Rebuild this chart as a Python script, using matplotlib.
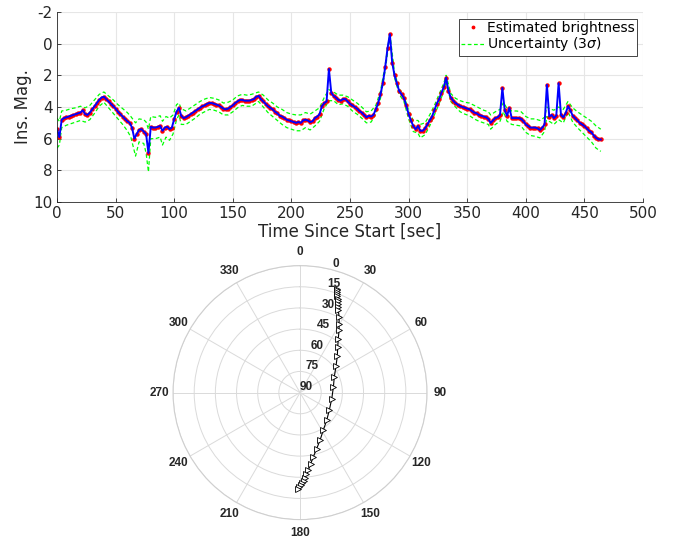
import numpy as np
import matplotlib
matplotlib.use("Agg")
import matplotlib.pyplot as plt
from matplotlib.lines import Line2D

plt.rcParams["axes.unicode_minus"] = False

# ---- light curve: estimated instrumental magnitude, one sample every 2 s ----
time_s = np.arange(0, 466, 2)
mag = [
    5.4, 5.9, 4.8, 4.7, 4.65, 4.6, 4.55, 4.5, 4.45, 4.4,
    4.35, 4.2, 4.45, 4.5, 4.35, 4.15, 3.95, 3.75, 3.55, 3.4,
    3.35, 3.5, 3.65, 3.8, 3.95, 4.1, 4.3, 4.45, 4.6, 4.75,
    4.9, 5.0, 5.3, 6.0, 5.7, 5.45, 5.4, 5.55, 5.7, 6.9,
    5.25, 5.3, 5.3, 5.25, 5.2, 5.5, 5.3, 5.25, 5.4, 5.3,
    4.75, 4.3, 4.05, 4.55, 4.7, 4.65, 4.55, 4.45, 4.35, 4.25,
    4.15, 4.05, 3.95, 3.9, 3.8, 3.75, 3.75, 3.8, 3.85, 3.9,
    4.0, 4.1, 4.15, 4.1, 4.0, 3.9, 3.75, 3.65, 3.55, 3.55,
    3.6, 3.6, 3.6, 3.55, 3.5, 3.35, 3.3, 3.5, 3.65, 3.8,
    3.95, 4.05, 4.15, 4.3, 4.4, 4.55, 4.6, 4.7, 4.8, 4.85,
    4.9, 4.95, 5.0, 4.95, 5.0, 4.85, 4.8, 4.85, 4.95, 4.9,
    4.7, 4.6, 4.45, 3.95, 3.75, 3.65, 1.6, 3.1, 3.3, 3.4,
    3.55, 3.6, 3.5, 3.5, 3.65, 3.8, 3.9, 4.0, 4.1, 4.25,
    4.35, 4.5, 4.65, 4.55, 4.6, 4.5, 4.15, 3.75, 3.2, 2.5,
    1.5, 0.3, -0.6, 1.2, 2.0, 2.5, 3.0, 3.2, 3.45, 3.9,
    4.45, 4.85, 5.2, 5.4, 5.2, 5.5, 5.5, 5.35, 5.1, 4.85,
    4.6, 4.2, 3.8, 3.5, 3.1, 2.75, 2.15, 3.0, 3.4, 3.6,
    3.75, 3.85, 3.95, 4.0, 4.05, 4.1, 4.15, 4.25, 4.35, 4.4,
    4.5, 4.55, 4.6, 4.65, 4.75, 5.0, 4.85, 4.7, 4.65, 4.5,
    2.8, 4.2, 4.55, 4.05, 4.7, 4.7, 4.7, 4.7, 4.75, 4.9,
    5.1, 5.2, 5.3, 5.3, 5.3, 5.35, 5.45, 5.3, 5.1, 2.6,
    4.6, 4.5, 4.7, 4.55, 2.5, 4.5, 4.65, 4.4, 3.95, 4.2,
    4.55, 4.7, 4.85, 5.0, 5.1, 5.2, 5.35, 5.5, 5.6, 5.8,
    5.95, 6.05, 6.05,
]

# 3-sigma envelope (bright side / faint side)
unc_t = [
    0, 2, 4, 8, 12, 16, 20, 24, 28, 32, 36, 40, 44, 48, 52, 56, 60, 63, 67, 70,
    74, 76, 78, 80, 84, 88, 90, 93, 96, 99, 102, 104, 106, 110, 114, 118, 122, 126, 130, 134,
    138, 142, 146, 150, 154, 158, 162, 166, 170, 172, 176, 180, 184, 188, 192, 196, 200, 204, 208, 212,
    216, 220, 224, 228, 232, 236, 240, 244, 248, 252, 256, 260, 264, 268, 272, 276, 280, 284, 288, 292,
    296, 300, 304, 308, 310, 314, 318, 322, 326, 330, 332, 336, 340, 344, 348, 352, 356, 360, 364, 368,
    370, 374, 378, 381, 384, 388, 392, 396, 400, 404, 408, 412, 416, 418, 420, 424, 428, 432, 436, 440,
    444, 448, 452, 456, 460, 464,
]
unc_hi = [
    4.7, 4.9, 4.25, 4.2, 4.1, 4.05, 3.95, 4.05, 3.9, 3.55, 3.2, 3.05, 3.3, 3.55, 3.85, 4.1, 4.35, 4.6, 5.0, 4.75,
    4.8, 4.95, 5.4, 4.6, 4.65, 4.55, 4.9, 4.6, 4.7, 4.5, 3.85, 3.75, 4.1, 4.25, 4.05, 3.85, 3.65, 3.5, 3.4, 3.45,
    3.55, 3.75, 3.7, 3.55, 3.3, 3.2, 3.25, 3.2, 3.1, 3.05, 3.25, 3.55, 3.75, 4.0, 4.15, 4.35, 4.45, 4.5, 4.5, 4.35,
    4.45, 4.25, 4.05, 3.4, 2.9, 3.05, 3.25, 3.25, 3.35, 3.55, 3.75, 4.0, 4.3, 4.25, 3.9, 3.0, 1.35, -0.65, 1.85, 2.85,
    3.3, 4.2, 4.85, 4.85, 5.1, 5.0, 4.5, 3.9, 3.2, 2.5, 2.0, 3.15, 3.45, 3.6, 3.7, 3.75, 3.9, 4.05, 4.2, 4.3,
    4.5, 4.3, 4.15, 3.7, 4.1, 4.25, 4.25, 4.3, 4.6, 4.75, 4.75, 4.85, 4.65, 4.0, 4.1, 4.2, 4.0, 4.15, 3.65, 4.05,
    4.3, 4.5, 4.7, 4.9, 5.2, 5.4,
]
unc_lo = [
    6.6, 6.4, 5.3, 5.15, 5.05, 4.95, 4.85, 4.95, 4.8, 4.4, 3.95, 3.7, 4.05, 4.4, 4.75, 5.1, 5.5, 5.9, 7.1, 6.2,
    6.3, 6.9, 8.1, 6.0, 6.0, 5.9, 6.4, 5.9, 6.1, 5.7, 4.8, 4.5, 5.1, 5.1, 4.9, 4.7, 4.45, 4.3, 4.15, 4.2,
    4.3, 4.5, 4.5, 4.3, 4.05, 3.9, 3.95, 3.95, 3.75, 3.65, 4.0, 4.35, 4.6, 4.85, 5.1, 5.3, 5.4, 5.5, 5.5, 5.3,
    5.45, 5.2, 4.9, 4.1, 3.6, 3.6, 3.85, 3.8, 3.95, 4.25, 4.45, 4.7, 5.0, 4.95, 4.45, 3.45, 1.7, -0.45, 2.15, 3.2,
    3.65, 4.75, 5.55, 5.65, 5.95, 5.75, 5.2, 4.5, 3.8, 3.0, 2.4, 3.65, 4.0, 4.3, 4.45, 4.55, 4.75, 4.9, 5.0, 5.1,
    5.4, 5.1, 4.9, 4.3, 4.9, 5.1, 5.15, 5.2, 5.6, 5.8, 5.85, 5.95, 5.55, 4.6, 4.9, 5.1, 4.8, 5.0, 4.3, 4.95,
    5.3, 5.6, 5.9, 6.2, 6.6, 6.8,
]

# ---- sky track of the object (azimuth / elevation, degrees) ----
azimuth = [
    19.4, 19.8, 20.3, 20.7, 21.2, 21.9, 22.5, 23.2, 24.0, 24.9,
    27.3, 29.5, 32.0, 35.3, 39.5, 45.7, 53.7, 65.4, 80.3, 100.7,
    121.0, 135.9, 148.2, 157.2, 163.4, 168.3, 171.4, 173.9, 175.5, 176.6,
    177.7, 178.7, 179.7, 180.4, 181.0,
]
elevation = [
    11.8, 13.0, 14.3, 15.6, 16.9, 18.4, 20.0, 21.6, 23.5, 25.6,
    29.6, 33.8, 37.8, 43.1, 48.0, 53.1, 58.4, 63.3, 66.0, 67.1,
    65.8, 62.8, 58.7, 53.4, 48.6, 43.5, 39.1, 34.7, 31.9, 29.5,
    27.4, 25.6, 24.2, 23.0, 22.0,
]

dark = "#262626"
grid_c = "#e6e6e6"

fig = plt.figure(figsize=(6.74, 5.39), dpi=100)

# light curve
ax = fig.add_axes([0.0846, 0.6252, 0.8694, 0.3525])
ax.plot(unc_t, unc_hi, color="#00ff00", ls="--", lw=0.9, dashes=(3, 2))
ax.plot(unc_t, unc_lo, color="#00ff00", ls="--", lw=0.9, dashes=(3, 2))
ax.plot(time_s, mag, color="red", ls="none", marker="o", ms=3.2, mew=0)
ax.plot(time_s, mag, color="blue", lw=1.4)

ax.set_xlim(0, 500)
ax.set_ylim(10, -2)
ax.set_xticks(np.arange(0, 501, 50))
ax.set_yticks(np.arange(-2, 11, 2))
ax.grid(True, color=grid_c, lw=0.8)
ax.set_axisbelow(True)
for s in ["top", "right"]:
    ax.spines[s].set_visible(False)
for s in ["left", "bottom"]:
    ax.spines[s].set_color(dark)
    ax.spines[s].set_linewidth(0.6)
ax.tick_params(direction="in", length=3, width=0.6, colors=dark, labelsize=11, pad=3)
ax.set_xlabel("Time Since Start [sec]", fontsize=12, color=dark, labelpad=1)
ax.set_ylabel("Ins. Mag.", fontsize=12, color=dark, labelpad=1)

handles = [
    Line2D([], [], color="red", ls="none", marker=".", ms=3.5),
    Line2D([], [], color="#00ff00", ls="--", lw=0.9, dashes=(3, 2)),
]
leg = ax.legend(handles, ["Estimated brightness", r"Uncertainty (3$\sigma$)"],
                loc="upper right", bbox_to_anchor=(0.99, 0.965), fontsize=10,
                fancybox=False, framealpha=1, handlelength=1.7, handletextpad=0.2,
                borderpad=0.15, labelspacing=0.05, borderaxespad=0)
leg.get_frame().set_edgecolor(dark)
leg.get_frame().set_linewidth(0.6)

# sky plot
pax = fig.add_axes([0.2567, 0.0360, 0.3769, 0.4712], projection="polar")
pax.set_theta_zero_location("N")
pax.set_theta_direction(-1)
pax.plot(np.radians(azimuth), elevation, color="black", lw=0.8,
         marker=">", ms=4.5, mfc="white", mec="black", mew=0.6)
pax.set_ylim(90, 0)
pax.set_yticks([0, 15, 30, 45, 60, 75, 90])
pax.set_rlabel_position(15)
pax.set_xticks(np.radians(np.arange(0, 360, 30)))
pax.set_xticklabels([str(a) for a in range(0, 360, 30)])
pax.grid(True, color="#dadada", lw=0.7)
pax.spines["polar"].set_color("#cfcfcf")
pax.spines["polar"].set_linewidth(0.8)
for lab in pax.get_xticklabels() + pax.get_yticklabels():
    lab.set_fontfamily("Liberation Sans")
    lab.set_fontweight("bold")
    lab.set_fontsize(8.5)
    lab.set_color(dark)
pax.tick_params(axis="x", pad=-1)

fig.savefig("out.png", dpi=100)
